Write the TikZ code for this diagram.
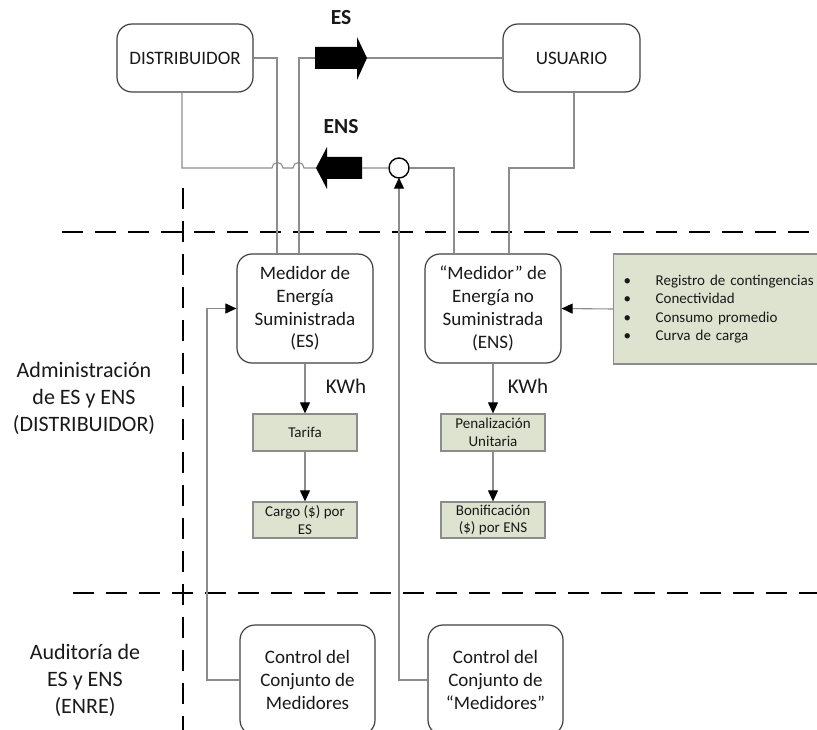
\documentclass[tikz,border=0pt]{standalone}
\usepackage{fontspec}
\setmainfont{Carlito}
\usetikzlibrary{arrows.meta}
\definecolor{boxgreen}{RGB}{221,227,207}
\definecolor{linegray}{RGB}{140,140,140}
\definecolor{bordergray}{RGB}{64,64,64}
\definecolor{txt}{RGB}{25,25,25}
\begin{document}
\begin{tikzpicture}[x=1pt,y=-1pt,
  every node/.style={text=txt},
  rbox/.style={draw=bordergray, line width=1.2pt, rounded corners=15pt, fill=white, align=center, inner sep=0pt, font=\fontsize{19}{22.7}\selectfont},
  gbox/.style={draw=linegray, line width=1.3pt, fill=boxgreen, align=center, inner sep=0pt, minimum width=104pt, font=\fontsize{15}{17.5}\selectfont},
  conn/.style={draw=linegray, line width=1.1pt},
  arr/.style={conn, -{Triangle[length=11pt,width=10pt,color=black]}},
  dashline/.style={draw=black, line width=2.5pt, dash pattern=on 21pt off 12pt},
  sidelbl/.style={align=center, font=\fontsize{22}{27}\selectfont},
  kwhlbl/.style={font=\fontsize{21}{25}\selectfont},
  flowlbl/.style={font=\bfseries\fontsize{21.5}{25}\selectfont}
]
\useasboundingbox (0,0) rectangle (817,730);

% dashed separators
\draw[dashline] (62,232) -- (817,232);
\draw[dashline] (73,593) -- (817,593);
\draw[dashline] (183,188) -- (183,732);

% main boxes
\node[rbox, minimum width=136pt, minimum height=68pt] (dist) at (185,58) {DISTRIBUIDOR};
\node[rbox, minimum width=137pt, minimum height=68pt] (usu) at (571.5,58) {USUARIO};
\node[rbox, minimum width=136pt, minimum height=109pt] (mes) at (305,308.5) {Medidor de\\Energía\\Suministrada\\(ES)};
\node[rbox, minimum width=136pt, minimum height=109pt] (mens) at (493,308.5) {“Medidor” de\\Energía no\\Suministrada\\(ENS)};
\node[rbox, minimum width=135pt, minimum height=110pt] (ctrla) at (307.5,680) {Control del\\Conjunto de\\Medidores};
\node[rbox, minimum width=135pt, minimum height=110pt] (ctrlb) at (495.5,680) {Control del\\Conjunto de\\“Medidores”};

% green boxes
\node[gbox, minimum height=37pt] (tarifa) at (305,432.5) {Tarifa};
\node[gbox, minimum height=36pt] (cargo) at (305,520) {Cargo (\$) por\\ES};
\node[gbox, minimum height=37pt] (pen) at (493,432.5) {Penalización\\Unitaria};
\node[gbox, minimum height=36pt] (bon) at (493,520) {Bonificación\\(\$) por ENS};
\node[draw=linegray, line width=1.3pt, fill=boxgreen, anchor=west, minimum width=230pt, minimum height=110pt,
      align=left, text width=210pt, inner xsep=10pt, inner ysep=0pt, font=\fontsize{15}{18.3}\selectfont] (lst) at (613,309)
  {\makebox[32pt][l]{\textbullet}Registro de contingencias\\
   \makebox[32pt][l]{\textbullet}Conectividad\\
   \makebox[32pt][l]{\textbullet}Consumo promedio\\
   \makebox[32pt][l]{\textbullet}Curva de carga};

% summing circle
\node[circle, draw=black, line width=1.4pt, fill=white, minimum size=20pt, inner sep=0pt] (circ) at (399,168) {};

% labels
\node[flowlbl] (eslbl) at (341,18) {ES};
\node[flowlbl] (enslbl) at (341,127) {ENS};
\node[kwhlbl] (kwha) at (346,386) {KWh};
\node[kwhlbl] (kwhb) at (528,386) {KWh};
\node[sidelbl] (adm) at (84,398) {Administración\\de ES y ENS\\(DISTRIBUIDOR)};
\node[sidelbl] (aud) at (85,680) {Auditoría de\\ES y ENS\\(ENRE)};

% connectors
\draw[conn] (dist.east) -- (277,58) -- (277,0 |- mes.north);
\draw[conn] (299,0 |- mes.north) -- (299,58) -- (usu.west);
\draw[conn] (182,0 |- dist.south) -- (182,168) -- (272,168)
   arc[start angle=180, end angle=0, radius=5.5pt] -- (293,168)
   arc[start angle=180, end angle=0, radius=5.5pt] -- (circ.west);
\draw[conn] (circ.east) -- (454,168) -- (454,0 |- mens.north);
\draw[conn] (574,0 |- usu.south) -- (574,168) -- (509,168) -- (509,0 |- mens.north);

% flow arrows
\fill[black] (315,47) -- (357,47) -- (357,37) -- (367,58) -- (357,80) -- (357,69) -- (315,69) -- cycle;
\fill[black] (362,157) -- (327,157) -- (327,147) -- (316,168) -- (327,189) -- (327,179) -- (362,179) -- cycle;

\draw[arr] (ctrla.west) -- (207,0 |- ctrla.west) -- (207,0 |- mes.west) -- (mes.west);
\draw[arr, shorten >=-1pt] (ctrlb.west) -- (399,0 |- ctrlb.west) -- (circ.south);
\draw[arr] (lst.west) -- (mens.east);
\draw[arr] (mes.south) -- (tarifa.north);
\draw[arr] (tarifa.south) -- (cargo.north);
\draw[arr] (mens.south) -- (pen.north);
\draw[arr] (pen.south) -- (bon.north);
\end{tikzpicture}
\end{document}
